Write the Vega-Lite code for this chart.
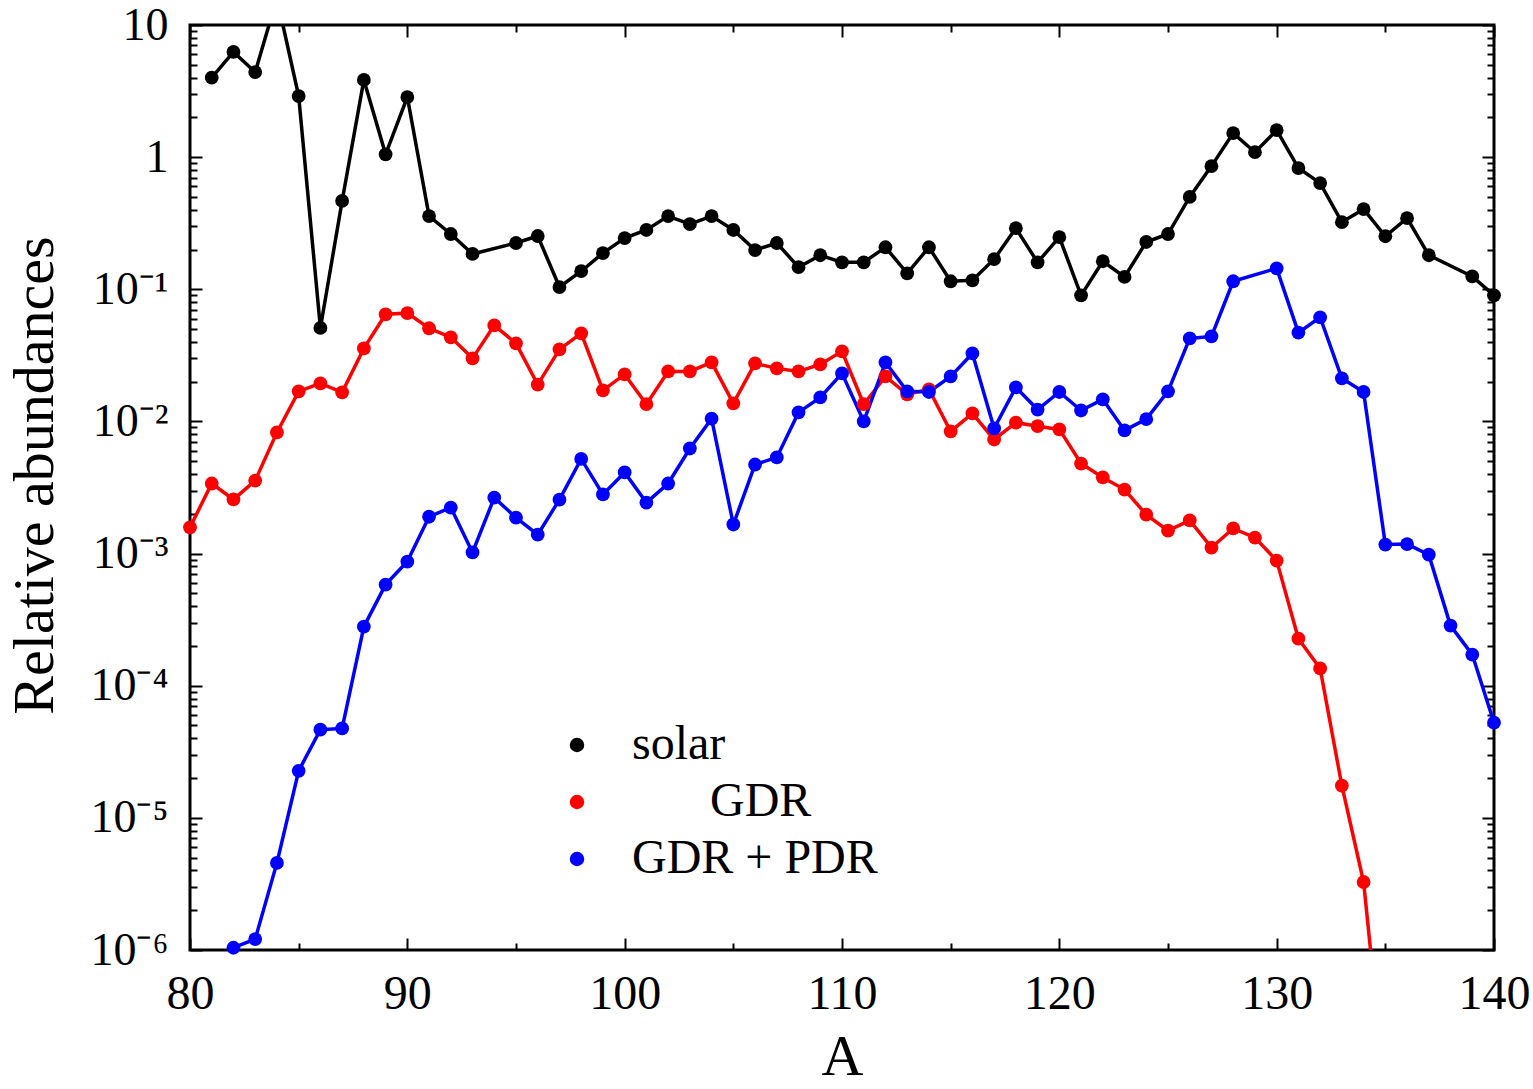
{
  "$schema": "https://vega.github.io/schema/vega-lite/v6.json",
  "width": 1304,
  "height": 925,
  "autosize": "none",
  "padding": {"left": 190, "top": 25, "right": 39, "bottom": 139},
  "background": "white",
  "config": {
    "view": {"stroke": "black", "strokeWidth": 3},
    "font": "Liberation Serif",
    "axis": {"domain": false, "grid": false, "tickColor": "black", "tickWidth": 2, "labelColor": "black", "titleColor": "black", "labelFont": "Liberation Serif", "titleFont": "Liberation Serif", "titleFontWeight": "normal", "labelOverlap": false, "labelBound": false, "labelFlush": false},
    "legend": {"orient": "none", "legendX": 363, "legendY": 696, "title": null, "padding": 0, "symbolType": "circle", "symbolSize": 210, "symbolStrokeWidth": 0,
      "labelFont": "Liberation Serif", "labelFontSize": 48, "labelColor": "black", "labelOffset": 31, "rowPadding": 9, "labelLimit": 0}
  },
  "data": {"values": [
    {"A": 81, "value": 4.0, "series": "solar"},
    {"A": 82, "value": 6.25, "series": "solar"},
    {"A": 83, "value": 4.4, "series": "solar"},
    {"A": 84, "value": 16, "series": "solar"},
    {"A": 85, "value": 2.9, "series": "solar"},
    {"A": 86, "value": 0.051, "series": "solar"},
    {"A": 87, "value": 0.466, "series": "solar"},
    {"A": 88, "value": 3.84, "series": "solar"},
    {"A": 89, "value": 1.05, "series": "solar"},
    {"A": 90, "value": 2.85, "series": "solar"},
    {"A": 91, "value": 0.358, "series": "solar"},
    {"A": 92, "value": 0.262, "series": "solar"},
    {"A": 93, "value": 0.185, "series": "solar"},
    {"A": 95, "value": 0.224, "series": "solar"},
    {"A": 96, "value": 0.253, "series": "solar"},
    {"A": 97, "value": 0.104, "series": "solar"},
    {"A": 98, "value": 0.137, "series": "solar"},
    {"A": 99, "value": 0.188, "series": "solar"},
    {"A": 100, "value": 0.244, "series": "solar"},
    {"A": 101, "value": 0.281, "series": "solar"},
    {"A": 102, "value": 0.358, "series": "solar"},
    {"A": 103, "value": 0.311, "series": "solar"},
    {"A": 104, "value": 0.358, "series": "solar"},
    {"A": 105, "value": 0.281, "series": "solar"},
    {"A": 106, "value": 0.198, "series": "solar"},
    {"A": 107, "value": 0.224, "series": "solar"},
    {"A": 108, "value": 0.147, "series": "solar"},
    {"A": 109, "value": 0.181, "series": "solar"},
    {"A": 110, "value": 0.160, "series": "solar"},
    {"A": 111, "value": 0.160, "series": "solar"},
    {"A": 112, "value": 0.208, "series": "solar"},
    {"A": 113, "value": 0.132, "series": "solar"},
    {"A": 114, "value": 0.208, "series": "solar"},
    {"A": 115, "value": 0.115, "series": "solar"},
    {"A": 116, "value": 0.117, "series": "solar"},
    {"A": 117, "value": 0.169, "series": "solar"},
    {"A": 118, "value": 0.29, "series": "solar"},
    {"A": 119, "value": 0.160, "series": "solar"},
    {"A": 120, "value": 0.248, "series": "solar"},
    {"A": 121, "value": 0.090, "series": "solar"},
    {"A": 122, "value": 0.163, "series": "solar"},
    {"A": 123, "value": 0.124, "series": "solar"},
    {"A": 124, "value": 0.228, "series": "solar"},
    {"A": 125, "value": 0.262, "series": "solar"},
    {"A": 126, "value": 0.50, "series": "solar"},
    {"A": 127, "value": 0.855, "series": "solar"},
    {"A": 128, "value": 1.52, "series": "solar"},
    {"A": 129, "value": 1.09, "series": "solar"},
    {"A": 130, "value": 1.60, "series": "solar"},
    {"A": 131, "value": 0.827, "series": "solar"},
    {"A": 132, "value": 0.636, "series": "solar"},
    {"A": 133, "value": 0.322, "series": "solar"},
    {"A": 134, "value": 0.404, "series": "solar"},
    {"A": 135, "value": 0.252, "series": "solar"},
    {"A": 136, "value": 0.345, "series": "solar"},
    {"A": 137, "value": 0.181, "series": "solar"},
    {"A": 139, "value": 0.125, "series": "solar"},
    {"A": 140, "value": 0.090, "series": "solar"},
    {"A": 80, "value": 0.00158, "series": "GDR"},
    {"A": 81, "value": 0.00339, "series": "GDR"},
    {"A": 82, "value": 0.00257, "series": "GDR"},
    {"A": 83, "value": 0.00357, "series": "GDR"},
    {"A": 84, "value": 0.00826, "series": "GDR"},
    {"A": 85, "value": 0.0169, "series": "GDR"},
    {"A": 86, "value": 0.0194, "series": "GDR"},
    {"A": 87, "value": 0.0166, "series": "GDR"},
    {"A": 88, "value": 0.0357, "series": "GDR"},
    {"A": 89, "value": 0.0647, "series": "GDR"},
    {"A": 90, "value": 0.066, "series": "GDR"},
    {"A": 91, "value": 0.0507, "series": "GDR"},
    {"A": 92, "value": 0.0433, "series": "GDR"},
    {"A": 93, "value": 0.030, "series": "GDR"},
    {"A": 94, "value": 0.0533, "series": "GDR"},
    {"A": 95, "value": 0.039, "series": "GDR"},
    {"A": 96, "value": 0.019, "series": "GDR"},
    {"A": 97, "value": 0.0351, "series": "GDR"},
    {"A": 98, "value": 0.0464, "series": "GDR"},
    {"A": 99, "value": 0.0172, "series": "GDR"},
    {"A": 100, "value": 0.0227, "series": "GDR"},
    {"A": 101, "value": 0.0135, "series": "GDR"},
    {"A": 102, "value": 0.0239, "series": "GDR"},
    {"A": 103, "value": 0.0239, "series": "GDR"},
    {"A": 104, "value": 0.028, "series": "GDR"},
    {"A": 105, "value": 0.0137, "series": "GDR"},
    {"A": 106, "value": 0.0275, "series": "GDR"},
    {"A": 107, "value": 0.0252, "series": "GDR"},
    {"A": 108, "value": 0.0239, "series": "GDR"},
    {"A": 109, "value": 0.027, "series": "GDR"},
    {"A": 110, "value": 0.0339, "series": "GDR"},
    {"A": 111, "value": 0.0135, "series": "GDR"},
    {"A": 112, "value": 0.0219, "series": "GDR"},
    {"A": 113, "value": 0.016, "series": "GDR"},
    {"A": 114, "value": 0.0175, "series": "GDR"},
    {"A": 115, "value": 0.0084, "series": "GDR"},
    {"A": 116, "value": 0.0115, "series": "GDR"},
    {"A": 117, "value": 0.0073, "series": "GDR"},
    {"A": 118, "value": 0.0098, "series": "GDR"},
    {"A": 119, "value": 0.0092, "series": "GDR"},
    {"A": 120, "value": 0.0087, "series": "GDR"},
    {"A": 121, "value": 0.0048, "series": "GDR"},
    {"A": 122, "value": 0.00377, "series": "GDR"},
    {"A": 123, "value": 0.00305, "series": "GDR"},
    {"A": 124, "value": 0.00197, "series": "GDR"},
    {"A": 125, "value": 0.00149, "series": "GDR"},
    {"A": 126, "value": 0.00178, "series": "GDR"},
    {"A": 127, "value": 0.00111, "series": "GDR"},
    {"A": 128, "value": 0.00155, "series": "GDR"},
    {"A": 129, "value": 0.00132, "series": "GDR"},
    {"A": 130, "value": 0.000885, "series": "GDR"},
    {"A": 131, "value": 0.000227, "series": "GDR"},
    {"A": 132, "value": 0.000135, "series": "GDR"},
    {"A": 133, "value": 1.75e-5, "series": "GDR"},
    {"A": 134, "value": 3.27e-6, "series": "GDR"},
    {"A": 135, "value": 8e-8, "series": "GDR"},
    {"A": 82, "value": 1.04e-6, "series": "GDR + PDR"},
    {"A": 83, "value": 1.21e-6, "series": "GDR + PDR"},
    {"A": 84, "value": 4.56e-6, "series": "GDR + PDR"},
    {"A": 85, "value": 2.27e-5, "series": "GDR + PDR"},
    {"A": 86, "value": 4.65e-5, "series": "GDR + PDR"},
    {"A": 87, "value": 4.75e-5, "series": "GDR + PDR"},
    {"A": 88, "value": 0.00028, "series": "GDR + PDR"},
    {"A": 89, "value": 0.000582, "series": "GDR + PDR"},
    {"A": 90, "value": 0.00087, "series": "GDR + PDR"},
    {"A": 91, "value": 0.0019, "series": "GDR + PDR"},
    {"A": 92, "value": 0.00223, "series": "GDR + PDR"},
    {"A": 93, "value": 0.00102, "series": "GDR + PDR"},
    {"A": 94, "value": 0.00265, "series": "GDR + PDR"},
    {"A": 95, "value": 0.00187, "series": "GDR + PDR"},
    {"A": 96, "value": 0.00139, "series": "GDR + PDR"},
    {"A": 97, "value": 0.00256, "series": "GDR + PDR"},
    {"A": 98, "value": 0.0052, "series": "GDR + PDR"},
    {"A": 99, "value": 0.0028, "series": "GDR + PDR"},
    {"A": 100, "value": 0.00411, "series": "GDR + PDR"},
    {"A": 101, "value": 0.00243, "series": "GDR + PDR"},
    {"A": 102, "value": 0.00339, "series": "GDR + PDR"},
    {"A": 103, "value": 0.00624, "series": "GDR + PDR"},
    {"A": 104, "value": 0.0105, "series": "GDR + PDR"},
    {"A": 105, "value": 0.00166, "series": "GDR + PDR"},
    {"A": 106, "value": 0.00472, "series": "GDR + PDR"},
    {"A": 107, "value": 0.00534, "series": "GDR + PDR"},
    {"A": 108, "value": 0.0117, "series": "GDR + PDR"},
    {"A": 109, "value": 0.0152, "series": "GDR + PDR"},
    {"A": 110, "value": 0.0231, "series": "GDR + PDR"},
    {"A": 111, "value": 0.010, "series": "GDR + PDR"},
    {"A": 112, "value": 0.028, "series": "GDR + PDR"},
    {"A": 113, "value": 0.0169, "series": "GDR + PDR"},
    {"A": 114, "value": 0.0167, "series": "GDR + PDR"},
    {"A": 115, "value": 0.0219, "series": "GDR + PDR"},
    {"A": 116, "value": 0.0327, "series": "GDR + PDR"},
    {"A": 117, "value": 0.00885, "series": "GDR + PDR"},
    {"A": 118, "value": 0.0181, "series": "GDR + PDR"},
    {"A": 119, "value": 0.0123, "series": "GDR + PDR"},
    {"A": 120, "value": 0.0167, "series": "GDR + PDR"},
    {"A": 121, "value": 0.0121, "series": "GDR + PDR"},
    {"A": 122, "value": 0.0147, "series": "GDR + PDR"},
    {"A": 123, "value": 0.00855, "series": "GDR + PDR"},
    {"A": 124, "value": 0.0104, "series": "GDR + PDR"},
    {"A": 125, "value": 0.0169, "series": "GDR + PDR"},
    {"A": 126, "value": 0.0425, "series": "GDR + PDR"},
    {"A": 127, "value": 0.044, "series": "GDR + PDR"},
    {"A": 128, "value": 0.115, "series": "GDR + PDR"},
    {"A": 130, "value": 0.144, "series": "GDR + PDR"},
    {"A": 131, "value": 0.047, "series": "GDR + PDR"},
    {"A": 132, "value": 0.0614, "series": "GDR + PDR"},
    {"A": 133, "value": 0.0212, "series": "GDR + PDR"},
    {"A": 134, "value": 0.0167, "series": "GDR + PDR"},
    {"A": 135, "value": 0.00117, "series": "GDR + PDR"},
    {"A": 136, "value": 0.00118, "series": "GDR + PDR"},
    {"A": 137, "value": 0.00098, "series": "GDR + PDR"},
    {"A": 138, "value": 0.000285, "series": "GDR + PDR"},
    {"A": 139, "value": 0.000172, "series": "GDR + PDR"},
    {"A": 140, "value": 5.25e-5, "series": "GDR + PDR"}
  ]},
  "resolve": {"axis": {"x": "independent", "y": "independent"}},
  "layer": [
    {
      "mark": {"type": "line", "strokeWidth": 3.5, "clip": true},
      "encoding": {
        "x": {"field": "A", "type": "quantitative", "scale": {"domain": [80, 140], "nice": false, "zero": false},
          "axis": {"orient": "bottom", "values": [80,85,90,95,100,105,110,115,120,125,130,135,140],
            "labelExpr": "datum.value % 10 == 0 ? datum.label : ''",
            "tickSize": {"condition": {"test": "datum.value % 10 == 0", "value": -12}, "value": -7},
            "labelFontSize": 48, "labelPadding": 32, "title": "A", "titleFontSize": 58, "titleX": 652, "titleY": 124, "titleBaseline": "alphabetic"}},
        "y": {"field": "value", "type": "quantitative", "scale": {"type": "log", "domain": [1e-6, 10], "nice": false},
          "axis": {"orient": "left",
            "values": [1e-6,2e-6,3e-6,4e-6,5e-6,6e-6,7e-6,8e-6,9e-6,1e-5,2e-5,3e-5,4e-5,5e-5,6e-5,7e-5,8e-5,9e-5,1e-4,2e-4,3e-4,4e-4,5e-4,6e-4,7e-4,8e-4,9e-4,0.001,0.002,0.003,0.004,0.005,0.006,0.007,0.008,0.009,0.01,0.02,0.03,0.04,0.05,0.06,0.07,0.08,0.09,0.1,0.2,0.3,0.4,0.5,0.6,0.7,0.8,0.9,1,2,3,4,5,6,7,8,9,10],
            "labelExpr": "abs(log(datum.value)/LN10 - round(log(datum.value)/LN10)) > 0.001 ? '' : datum.value > 5 ? '10' : datum.value > 0.5 ? '1' : '10⁻' + ['','¹','²','³','⁴','⁵','⁶'][round(-log(datum.value)/LN10)]",
            "tickSize": {"condition": {"test": "abs(log(datum.value)/LN10 - round(log(datum.value)/LN10)) < 0.001", "value": -12}, "value": -7},
            "labelFontSize": 46, "labelPadding": 34,
            "title": "Relative abundances", "titleFontSize": 58, "titleX": -138, "titleY": 450, "titleAngle": -90, "titleAlign": "center", "titleBaseline": "alphabetic"}},
        "color": {"field": "series", "type": "nominal", "scale": {"domain": ["solar", "GDR", "GDR + PDR"], "range": ["#000000", "#ff0000", "#0000ff"]},
          "legend": {"encode": {"labels": {"update": {"dx": {"signal": "datum.label === 'GDR' ? 78 : 0"}}}}}}
      }
    },
    {
      "transform": [{"filter": "datum.value <= 10 && datum.value >= 1e-6"}],
      "mark": {"type": "circle", "size": 190, "opacity": 1},
      "encoding": {
        "x": {"field": "A", "type": "quantitative",
          "axis": {"orient": "top", "values": [80,85,90,95,100,105,110,115,120,125,130,135,140], "labels": false, "title": null,
            "tickSize": {"condition": {"test": "datum.value % 10 == 0", "value": -12}, "value": -7}}},
        "y": {"field": "value", "type": "quantitative",
          "axis": {"orient": "right", "labels": false, "title": null,
            "values": [1e-6,2e-6,3e-6,4e-6,5e-6,6e-6,7e-6,8e-6,9e-6,1e-5,2e-5,3e-5,4e-5,5e-5,6e-5,7e-5,8e-5,9e-5,1e-4,2e-4,3e-4,4e-4,5e-4,6e-4,7e-4,8e-4,9e-4,0.001,0.002,0.003,0.004,0.005,0.006,0.007,0.008,0.009,0.01,0.02,0.03,0.04,0.05,0.06,0.07,0.08,0.09,0.1,0.2,0.3,0.4,0.5,0.6,0.7,0.8,0.9,1,2,3,4,5,6,7,8,9,10],
            "tickSize": {"condition": {"test": "abs(log(datum.value)/LN10 - round(log(datum.value)/LN10)) < 0.001", "value": -12}, "value": -7}}},
        "color": {"field": "series", "type": "nominal",
          "legend": {"encode": {"labels": {"update": {"dx": {"signal": "datum.label === 'GDR' ? 78 : 0"}}}}}}
      }
    }
  ]
}
